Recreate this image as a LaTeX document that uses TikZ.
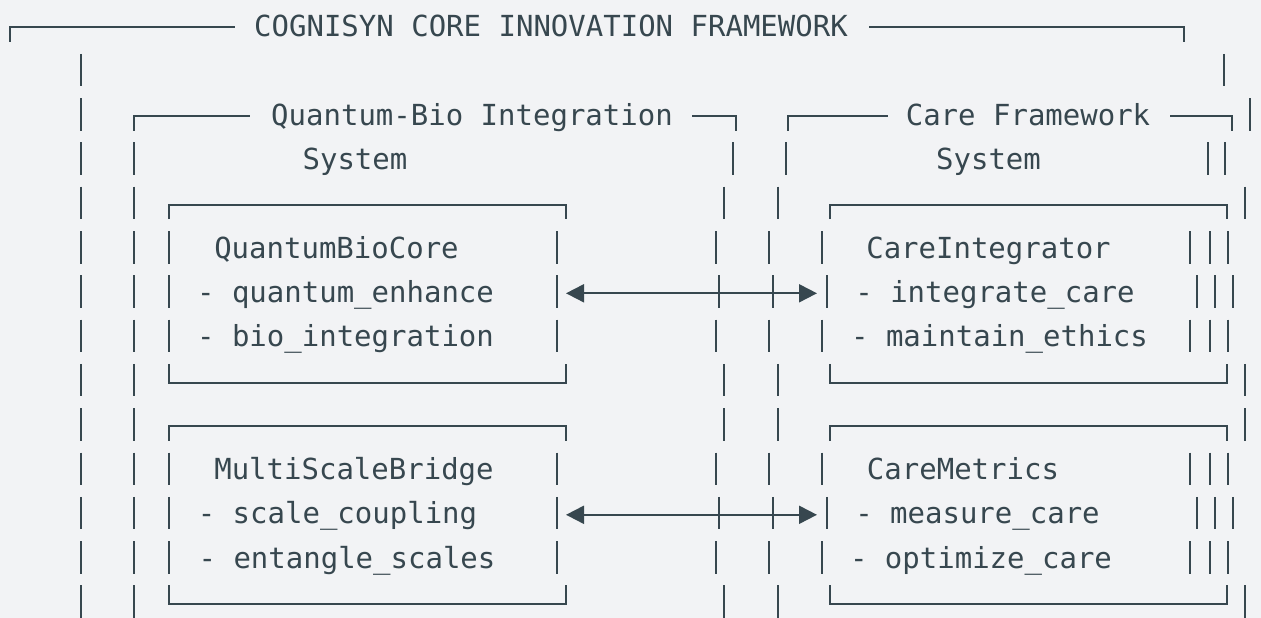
\documentclass[tikz,border=0pt]{standalone}
\usepackage{fontspec}
\newfontfamily\codefont{DejaVu Sans Mono}
\usetikzlibrary{arrows.meta}
\definecolor{paper}{RGB}{242,243,245}
\definecolor{ink}{RGB}{55,71,79}
\tikzset{
    txt/.style={font=\codefont\fontsize{29}{30}\selectfont, text=ink,
                inner sep=0pt, anchor=base},
    boxline/.style={draw=ink, line width=2pt},
    duplex/.style={{Triangle[length=18pt,width=18pt]}-{Triangle[length=18pt,width=18pt]},
                   draw=ink, fill=ink, line width=2pt}
}
\newcommand\rowy[1]{25.5+44.3*(#1)}
\newcommand\barsat[2]{\foreach \bx in {#2}{\draw[boxline] (\bx,{\rowy{#1}-16}) -- (\bx,{\rowy{#1}+16.5});}}

\begin{document}
\begin{tikzpicture}[x=1pt, y=-1pt]
    \fill[paper] (0,0) rectangle (1261,618);
    \useasboundingbox (0,0) rectangle (1261,618);
    % outer frame
    \node[txt] (core) at (551,{\rowy{0}+11}) {COGNISYN CORE INNOVATION FRAMEWORK};
    \draw[boxline] (10,{\rowy{0}+16.5}) |- (235,{\rowy{0}+2});
    \draw[boxline] (869,{\rowy{0}+2}) -| (1184,{\rowy{0}+16.5});
    % system frames
    \node[txt] (qbis) at (472,{\rowy{2}+11}) {Quantum-Bio Integration};
    \node[txt] (qbis-sys) at (355,{\rowy{3}+11}) {System};
    \node[txt] (cfs) at (1028,{\rowy{2}+11}) {Care Framework};
    \node[txt] (cfs-sys) at (988.5,{\rowy{3}+11}) {System};
    \draw[boxline] (134,{\rowy{2}+16.5}) |- (250,{\rowy{2}+2});
    \draw[boxline] (692,{\rowy{2}+2}) -| (736,{\rowy{2}+16.5});
    \draw[boxline] (788,{\rowy{2}+16.5}) |- (888,{\rowy{2}+2});
    \draw[boxline] (1170,{\rowy{2}+2}) -| (1232,{\rowy{2}+16.5});
    % component boxes
    \foreach \r in {4,9}{
        \draw[boxline] (169,{\rowy{\r}+16.5}) |- (566,{\rowy{\r}+2}) -- (566,{\rowy{\r}+16.5});
        \draw[boxline] (830,{\rowy{\r}+16.5}) |- (1227,{\rowy{\r}+2}) -- (1227,{\rowy{\r}+16.5});
    }
    \foreach \r in {8,13}{
        \draw[boxline] (169,{\rowy{\r}-16}) |- (566,{\rowy{\r}+3}) -- (566,{\rowy{\r}-16});
        \draw[boxline] (830,{\rowy{\r}-16}) |- (1227,{\rowy{\r}+3}) -- (1227,{\rowy{\r}-16});
    }
    \node[txt] (qbc) at (336.5,{\rowy{5}+11}) {QuantumBioCore};
    \node[txt] (qbc-m1) at (345.5,{\rowy{6}+11}) {- quantum\_enhance};
    \node[txt] (qbc-m2) at (345.5,{\rowy{7}+11}) {- bio\_integration};
    \node[txt] (ci) at (988.5,{\rowy{5}+11}) {CareIntegrator};
    \node[txt] (ci-m1) at (995,{\rowy{6}+11}) {- integrate\_care};
    \node[txt] (ci-m2) at (999.5,{\rowy{7}+11}) {- maintain\_ethics};
    \node[txt] (msb) at (354,{\rowy{10}+11}) {MultiScaleBridge};
    \node[txt] (msb-m1) at (337.5,{\rowy{11}+11}) {- scale\_coupling};
    \node[txt] (msb-m2) at (347,{\rowy{12}+11}) {- entangle\_scales};
    \node[txt] (cm) at (963,{\rowy{10}+11}) {CareMetrics};
    \node[txt] (cm-m1) at (977.5,{\rowy{11}+11}) {- measure\_care};
    \node[txt] (cm-m2) at (981,{\rowy{12}+11}) {- optimize\_care};
    % vertical bars, row by row
    \barsat{1}{81,1224}
    \barsat{2}{81,1250}
    \barsat{3}{81,134,733,786,1208,1225}
    \foreach \r in {4,8,9,13}{\barsat{\r}{81,134,724,778,1245}}
    \foreach \r in {5,7,10,12}{\barsat{\r}{81,134,169,557,716,769,822,1190,1210,1228}}
    \foreach \r in {6,11}{\barsat{\r}{81,134,169,557,719,773,827,1197,1215,1233}}
    % links
    \coordinate (qbc-port) at (566,{\rowy{6}+2});
    \coordinate (ci-port) at (817,{\rowy{6}+2});
    \coordinate (msb-port) at (566,{\rowy{11}+2});
    \coordinate (cm-port) at (817,{\rowy{11}+2});
    \draw[duplex] (qbc-port) -- (ci-port);
    \draw[duplex] (msb-port) -- (cm-port);
\end{tikzpicture}
\end{document}
